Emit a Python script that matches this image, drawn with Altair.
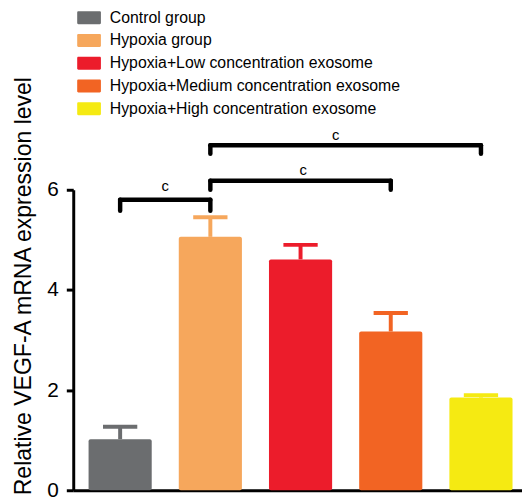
import altair as alt
import pandas as pd

groups = ["Control group", "Hypoxia group", "Hypoxia+Low concentration exosome",
          "Hypoxia+Medium concentration exosome", "Hypoxia+High concentration exosome"]
colors = ["#6b6d6f", "#f6a75c", "#ec1c2b", "#f26423", "#f5ea12"]
positions = [0, 1, 2, 3, 4]
means = [1.02, 5.06, 4.61, 3.17, 1.85]
errors = [0.25, 0.39, 0.29, 0.37, 0.05]

bracket_from = [0, 1, 1]
bracket_to = [1, 3, 4]
bracket_level = [5.80, 6.18, 6.89]
bracket_drop = [5.58, 6.00, 6.72]
bracket_text = ["c", "c", "c"]
bracket_text_x = [0.5, 2.03, 2.39]
bracket_text_y = [6.08, 6.39, 7.10]

FONT = "Liberation Sans"

bars_df = pd.DataFrame({"group": groups, "pos": positions, "mean": means, "err": errors})
br_df = pd.DataFrame({"x1": bracket_from, "x2": bracket_to, "level": bracket_level,
                      "drop": bracket_drop, "text": bracket_text,
                      "tx": bracket_text_x, "ty": bracket_text_y})

xscale = alt.Scale(domain=[-0.52, 4.455], zero=False, nice=False)
yscale = alt.Scale(domain=[0, 6], nice=False)

legend_path = ("M-1.35,-0.8125 L1.35,-0.8125 A0.15,0.15 0 0 1 1.5,-0.6625 L1.5,0.6625 "
               "A0.15,0.15 0 0 1 1.35,0.8125 L-1.35,0.8125 A0.15,0.15 0 0 1 -1.5,0.6625 "
               "L-1.5,-0.6625 A0.15,0.15 0 0 1 -1.35,-0.8125 Z")

color = alt.Color("group:N", scale=alt.Scale(domain=groups, range=colors),
                  legend=alt.Legend(title=None, orient="none", legendX=8, legendY=-182,
                                    symbolType=legend_path, symbolSize=256,
                                    symbolStrokeWidth=0, symbolOpacity=1,
                                    labelFontSize=16, labelFont=FONT, labelColor="black",
                                    labelOffset=13, rowPadding=7, labelLimit=0))

base = alt.Chart(bars_df).transform_calculate(
    left="datum.pos - 0.35", right="datum.pos + 0.35",
    upper="datum.mean + datum.err", zero="0",
    capl="datum.pos - 0.19", capr="datum.pos + 0.19")

bars = base.mark_rect(cornerRadius=2).encode(
    x=alt.X("left:Q", scale=xscale,
            axis=alt.Axis(title=None, labels=False, ticks=False, grid=False,
                          domainColor="black", domainWidth=3)),
    x2="right:Q",
    y=alt.Y("mean:Q", scale=yscale,
            axis=alt.Axis(values=[0, 2, 4, 6], grid=False, title="Relative VEGF-A mRNA expression level",
                          titleFontSize=23.3, titleFont=FONT, titleFontWeight="normal",
                          titleColor="black", titleAngle=270, titleX=-50, titleY=97,
                          titleAlign="center", titleBaseline="middle",
                          labelFontSize=21, labelFont=FONT, labelColor="black", labelPadding=8,
                          domainColor="black", domainWidth=3, tickColor="black",
                          tickWidth=3, tickSize=7)),
    y2="zero:Q",
    color=color,
)

stems = base.mark_rule(strokeWidth=4).encode(
    x=alt.X("pos:Q", scale=xscale),
    y=alt.Y("mean:Q", scale=yscale),
    y2="upper:Q",
    color=alt.Color("group:N", scale=alt.Scale(domain=groups, range=colors), legend=None),
)
caps = base.mark_rule(strokeWidth=4).encode(
    x=alt.X("capl:Q", scale=xscale),
    x2="capr:Q",
    y=alt.Y("upper:Q", scale=yscale),
    color=alt.Color("group:N", scale=alt.Scale(domain=groups, range=colors), legend=None),
)

bbase = alt.Chart(br_df)
hlines = bbase.mark_rule(strokeWidth=4.5, color="black", strokeCap="round").encode(
    x=alt.X("x1:Q", scale=xscale), x2="x2:Q", y=alt.Y("level:Q", scale=yscale))
ldrops = bbase.mark_rule(strokeWidth=4.5, color="black", strokeCap="round").encode(
    x=alt.X("x1:Q", scale=xscale), y=alt.Y("level:Q", scale=yscale), y2="drop:Q")
rdrops = bbase.mark_rule(strokeWidth=4.5, color="black", strokeCap="round").encode(
    x=alt.X("x2:Q", scale=xscale), y=alt.Y("level:Q", scale=yscale), y2="drop:Q")
labels = bbase.mark_text(fontSize=15, font=FONT, color="black", baseline="middle").encode(
    x=alt.X("tx:Q", scale=xscale), y=alt.Y("ty:Q", scale=yscale), text="text:N")

chart = alt.layer(bars, stems, caps, hlines, ldrops, rdrops, labels).properties(
    width=454, height=304,
    autosize=alt.AutoSizeParams(type="none"),
    padding={"left": 66, "top": 181, "right": 0, "bottom": 10},
).configure(background="white").configure_view(stroke=None).configure_axis(grid=False)

chart.save("out.html", embed_options={"renderer": "svg", "actions": False})
